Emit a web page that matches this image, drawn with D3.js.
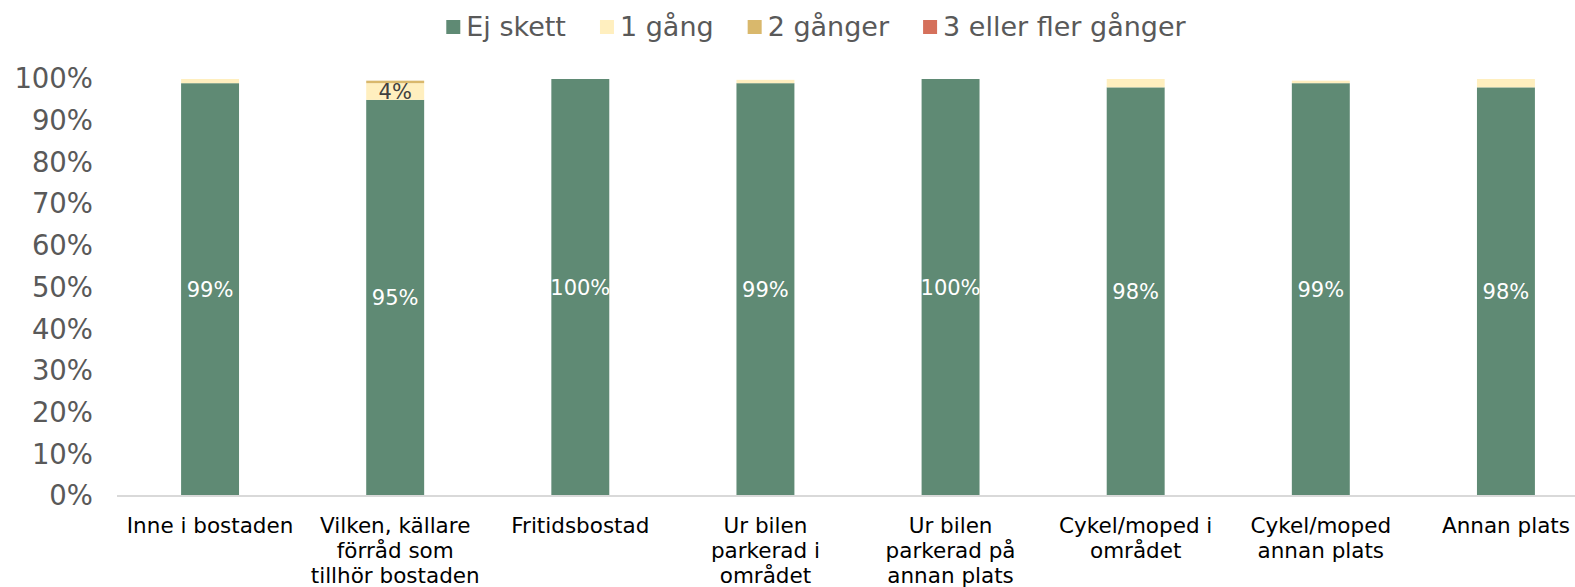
<!DOCTYPE html>
<html><head><meta charset="utf-8">
<script src="https://cdn.jsdelivr.net/npm/d3@7"></script>
<style>body{margin:0;background:#fff;} svg{display:block;font-family:"DejaVu Sans",Verdana,sans-serif;}</style>
</head><body><svg id="c" width="1575" height="587"></svg>
<script>
const categories = ["Inne i bostaden","Vilken, källare\nförråd som\ntillhör bostaden","Fritidsbostad","Ur bilen\nparkerad i\nområdet","Ur bilen\nparkerad på\nannan plats","Cykel/moped i\nområdet","Cykel/moped\nannan plats","Annan plats"];
const seriesNames = ["Ej skett","1 gång","2 gånger","3 eller fler gånger"];
const ejSkett = [99,95,100,99,100,98,99,98];
const enGang = [1,4,0,0.8,0,2,0.6,2];
const tvaGanger = [0,0.6,0,0,0,0,0,0];
const treEllerFler = [0,0,0,0,0,0,0,0];
const colors = ["#5f8a74","#ffefbf","#d9b86c","#d5705b"];
const yTicks = [0,10,20,30,40,50,60,70,80,90,100];
// which segments carry data labels: [series index, category index]
const labelled = [[0,0],[0,1],[0,2],[0,3],[0,4],[0,5],[0,6],[0,7],[1,1]];

const seriesVals = [ejSkett,enGang,tvaGanger,treEllerFler];
const rows = categories.map((c,i)=>{const r={cat:c};seriesNames.forEach((s,k)=>r[s]=seriesVals[k][i]);return r;});
const stacked = d3.stack().keys(seriesNames)(rows);

const svg = d3.select("#c");
const x = d3.scaleBand().domain(categories).range([117.5,1598.5]).paddingInner(0.687).paddingOuter(0.3435);
const y = d3.scaleLinear().domain([0,100]).range([496,79]);

// y axis
const ya = svg.append("g").attr("transform","translate(117,0)")
  .call(d3.axisLeft(y).tickValues(yTicks).tickFormat(d=>d+"%").tickSize(0).tickPadding(24));
ya.select(".domain").remove();
ya.selectAll("text").attr("fill","#595959").style("font-size","27.5px").style("font-family","DejaVu Sans, Verdana, sans-serif");

// bars
svg.append("g").selectAll("g").data(stacked).join("g").attr("fill",(d,i)=>colors[i])
  .selectAll("rect").data(d=>d).join("rect")
  .attr("x",d=>x(d.data.cat)).attr("width",x.bandwidth())
  .attr("y",d=>y(d[1])).attr("height",d=>Math.max(0,y(d[0])-y(d[1])));

// x axis
const xa = svg.append("g").attr("transform","translate(0,496)")
  .call(d3.axisBottom(x).tickSize(0).tickFormat(""));
xa.select(".domain").attr("stroke","#d9d9d9").attr("stroke-width",2).attr("d","M117,0H1575");
xa.selectAll(".tick").each(function(d){
  const lines = d.split("\n");
  const t = d3.select(this).append("text").attr("fill","#000").attr("text-anchor","middle")
    .style("font-size","21.5px").style("font-family","DejaVu Sans, Verdana, sans-serif");
  lines.forEach((l,i)=>t.append("tspan").attr("x",0).attr("y",37+i*25).text(l));
});

// data labels
const lg = svg.append("g").style("font-size","21px").attr("text-anchor","middle");
labelled.forEach(([s,c])=>{
  const seg = stacked[s][c];
  lg.append("text").attr("x",x(categories[c])+x.bandwidth()/2)
    .attr("y",(y(seg[0])+y(seg[1]))/2).attr("dy","0.36em")
    .attr("fill",s===0?"#ffffff":"#404040")
    .text(d3.format(".0f")(seriesVals[s][c])+"%");
});

// legend
const leg = svg.append("g").attr("transform","translate(0,26)").style("font-size","27px");
let items = [];
seriesNames.forEach((n,i)=>{
  const g = leg.append("g");
  g.append("rect").attr("width",14).attr("height",14).attr("y",-6).attr("fill",colors[i]);
  const t = g.append("text").attr("x",20).attr("dy","0.36em").attr("fill","#595959").text(n);
  items.push({g,w:20+t.node().getComputedTextLength()});
});
const gap = 34;
const total = d3.sum(items,d=>d.w)+gap*(items.length-1);
let cx = 816-total/2;
items.forEach(it=>{it.g.attr("transform",`translate(${cx},0)`);cx+=it.w+gap;});
</script></body></html>
